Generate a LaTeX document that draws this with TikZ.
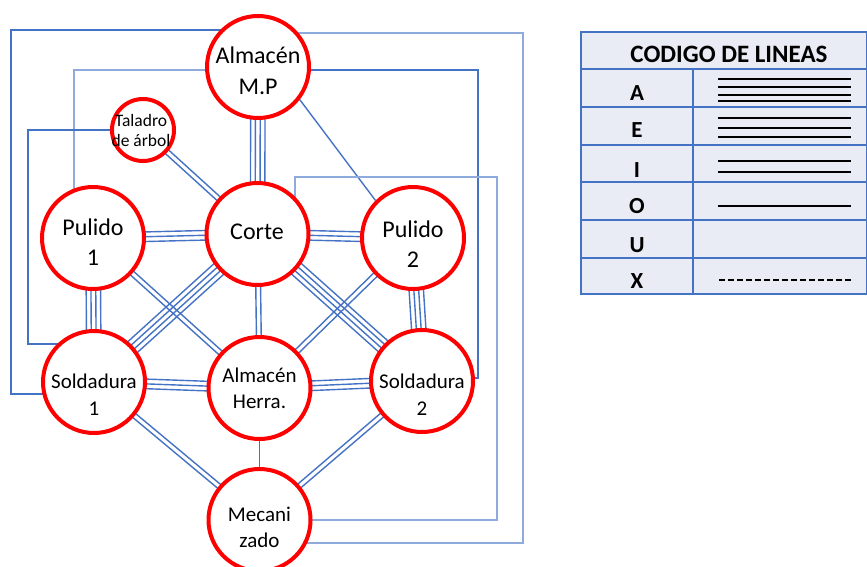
\documentclass[tikz,border=0pt]{standalone}
\usepackage{fontspec}
\setmainfont{Carlito}
\usetikzlibrary{calc,backgrounds}
\definecolor{cblue}{HTML}{4472C4}
\definecolor{lblue}{HTML}{8FAADC}
\definecolor{tfill}{HTML}{E9EBF5}
\newcommand\mlines[3]{%
  \foreach \k in {1,...,#3}{%
    \pgfmathsetmacro\off{(\k-(#3+1)/2)*4.8}%
    \draw[conn] ($(#1)!\off pt!90:(#2)$) -- ($(#2)!\off pt!-90:(#1)$);}}
\begin{document}
\begin{tikzpicture}[x=1pt,y=-1pt,
  bigc/.style={circle, draw=red, line width=4pt, fill=white, minimum size=102pt, inner sep=0pt},
  smallc/.style={bigc, minimum size=62pt},
  t24/.style={align=center, inner sep=0pt, font=\fontsize{24}{30}\selectfont},
  t21/.style={align=center, inner sep=0pt, font=\fontsize{21}{27}\selectfont},
  t16/.style={align=center, inner sep=0pt, font=\fontsize{17.5}{20}\selectfont},
  conn/.style={draw=cblue, line width=1.4pt},
  lconn/.style={draw=lblue, line width=1.3pt},
  thead/.style={anchor=base, inner sep=0pt, font=\bfseries\fontsize{25}{28}\selectfont},
  tlet/.style={anchor=base, inner sep=0pt, font=\bfseries\fontsize{23}{26}\selectfont},
  legline/.style={line width=1.8pt, black}]
\useasboundingbox (0,0) rectangle (867,567);

% circles
\node[bigc] (amp) at (258,67) {};
\node[smallc] (tal) at (143,130) {};
\node[bigc] (p1) at (93,238) {};
\node[bigc] (co) at (257.5,234) {};
\node[bigc] (p2) at (413,238) {};
\node[bigc] (s1) at (94,382) {};
\node[bigc] (ah) at (259.5,388) {};
\node[bigc] (s2) at (422,381) {};
\node[bigc] (me) at (259.5,520) {};

% texts
\node[t24, font=\fontsize{24}{31}\selectfont] (amp-t) at (258,71) {Almacén\\M.P};
\node[t16] (tal-t) at (141,130) {Taladro\\de árbol};
\node[t24, font=\fontsize{24}{29.5}\selectfont] (p1-t) at (93,242) {Pulido\\1};
\node[t24] (co-t) at (257,232) {Corte};
\node[t24, font=\fontsize{24}{29.5}\selectfont] (p2-t) at (413,244) {Pulido\\2};
\node[t21] (s1-t) at (94,395) {Soldadura\\1};
\node[t21, font=\fontsize{21}{26}\selectfont] (ah-t) at (259.5,388) {Almacén\\Herra.};
\node[t21] (s2-t) at (422,395) {Soldadura\\2};
\node[t21, font=\fontsize{21}{26}\selectfont] (me-t) at (259.5,527) {Mecani\\zado};

\begin{pgfonlayer}{background}
  \mlines{amp}{co}{4}
  \mlines{tal}{co}{2}
  \mlines{p1}{co}{3}
  \mlines{co}{p2}{3}
  \mlines{p1}{s1}{4}
  \mlines{p1}{ah}{2}
  \mlines{co}{s1}{4}
  \mlines{co}{ah}{2}
  \mlines{co}{s2}{4}
  \mlines{p2}{ah}{2}
  \mlines{p2}{s2}{4}
  \mlines{s1}{ah}{3}
  \mlines{ah}{s2}{3}
  \mlines{s1}{me}{2}
  \mlines{ah}{me}{1}
  \mlines{s2}{me}{2}
  \draw[conn] (amp.-38) -- (p2.135);
  % orthogonal connectors
  \coordinate (k1) at (11,30);
  \coordinate (k2) at (11,394);
  \draw[conn] (amp |- k1) -- (k1) -- (k2) -- (s1 |- k2);
  \coordinate (k3) at (523,33);
  \coordinate (k4) at (523,543);
  \draw[lconn] (amp |- k3) -- (k3) -- (k4) -- (me |- k4);
  \coordinate (k5) at (478,70);
  \coordinate (k6) at (478,378);
  \draw[conn] (amp |- k5) -- (k5) -- (k6) -- (s2 |- k6);
  \coordinate (k7) at (74,70);
  \draw[lconn] (amp |- k7) -- (k7) -- (k7 |- p1);
  \coordinate (k8) at (28,130);
  \coordinate (k9) at (28,344);
  \draw[conn] (tal |- k8) -- (k8) -- (k9) -- (s1 |- k9);
  \coordinate (k10) at (295,177);
  \coordinate (k11) at (497,177);
  \coordinate (k12) at (497,520);
  \draw[lconn] (k10 |- co) -- (k10) -- (k11) -- (k12) -- (me |- k12);
\end{pgfonlayer}

% legend table
\fill[tfill] (581,32) rectangle (867,294);
\draw[cblue, line width=1.5pt] (581,32) rectangle (867,294);
\foreach \yy in {69,107,145,182,220,258}
  \draw[cblue, line width=1.5pt] (581,\yy) -- (867,\yy);
\draw[cblue, line width=1.5pt] (693,69) -- (693,294);
\node[thead] (th) at (729,63) {CODIGO DE LINEAS};
\node[tlet] (lA) at (637,101) {A};
\node[tlet] (lE) at (637,138) {E};
\node[tlet] (lI) at (637,177) {I};
\node[tlet] (lO) at (637,213) {O};
\node[tlet] (lU) at (637,252) {U};
\node[tlet] (lX) at (637,288) {X};
\foreach \yy in {79,87,95,101} \draw[legline] (718,\yy) -- (851,\yy);
\foreach \yy in {118,128,137} \draw[legline] (718,\yy) -- (851,\yy);
\foreach \yy in {161,172} \draw[legline] (718,\yy) -- (851,\yy);
\draw[legline] (718,206) -- (851,206);
\draw[legline, dash pattern=on 6pt off 3pt] (719,280) -- (851,280);
\end{tikzpicture}
\end{document}
